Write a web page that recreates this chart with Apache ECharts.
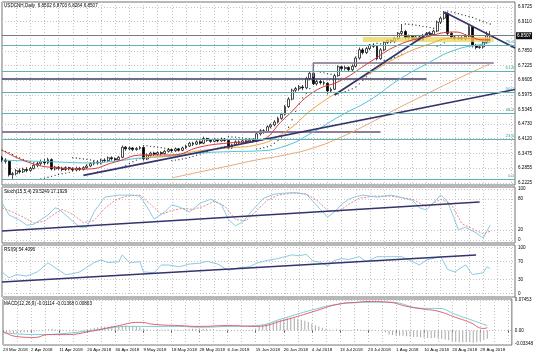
<!DOCTYPE html>
<html><head><meta charset="utf-8">
<script src="https://cdn.jsdelivr.net/npm/echarts@6/dist/echarts.min.js"></script>
<style>html,body{margin:0;padding:0;background:#fff}#c{width:536px;height:358px}</style>
</head><body><div id="c"></div>
<script>
// ---------- data ----------
const dateTicks = ['23 Mar 2018','2 Apr 2018','11 Apr 2018','20 Apr 2018','30 Apr 2018','9 May 2018','18 May 2018','28 May 2018','6 Jun 2018','15 Jun 2018','26 Jun 2018','4 Jul 2018','13 Jul 2018','23 Jul 2018','1 Aug 2018','10 Aug 2018','20 Aug 2018','29 Aug 2018'];
const slotCount = 146;
const priceTicks = [6.9725,6.9110,6.7850,6.7225,6.6605,6.5975,6.5345,6.4730,6.4120,6.3475,6.2855,6.2225];
const stochTicks = [100,80,20,0];
const rsiTicks = [100,70,30,0];
const macdTicks = [0.07453,0,-0.03348];
const lastPrice = 6.8507;
// [open, close, low, high]
const candles = [
[6.330,6.320,6.312,6.338],[6.320,6.315,6.305,6.328],[6.315,6.258,6.250,6.318],[6.258,6.262,6.240,6.270],
[6.262,6.275,6.255,6.282],[6.275,6.270,6.262,6.285],[6.270,6.280,6.265,6.288],[6.280,6.276,6.268,6.290],
[6.276,6.285,6.270,6.292],[6.285,6.298,6.280,6.305],[6.298,6.305,6.290,6.315],[6.305,6.312,6.296,6.322],
[6.312,6.308,6.298,6.325],[6.308,6.322,6.302,6.330],[6.322,6.282,6.276,6.328],[6.282,6.290,6.276,6.296],
[6.290,6.285,6.278,6.295],[6.285,6.280,6.272,6.292],[6.280,6.288,6.274,6.294],[6.288,6.283,6.276,6.292],
[6.283,6.278,6.270,6.290],[6.278,6.285,6.272,6.292],[6.285,6.280,6.274,6.291],[6.280,6.288,6.275,6.294],
[6.288,6.295,6.283,6.302],[6.295,6.305,6.290,6.312],[6.305,6.312,6.298,6.318],[6.312,6.308,6.300,6.320],
[6.308,6.320,6.302,6.326],[6.320,6.318,6.310,6.328],[6.318,6.330,6.312,6.336],[6.330,6.326,6.318,6.336],
[6.326,6.322,6.315,6.332],[6.322,6.332,6.316,6.338],[6.332,6.375,6.328,6.382],[6.375,6.368,6.360,6.380],
[6.368,6.372,6.362,6.378],[6.372,6.365,6.358,6.376],[6.365,6.370,6.360,6.376],[6.370,6.374,6.364,6.380],
[6.374,6.325,6.318,6.378],[6.325,6.340,6.320,6.348],[6.340,6.350,6.335,6.356],[6.350,6.345,6.338,6.356],
[6.345,6.352,6.340,6.358],[6.352,6.348,6.340,6.358],[6.348,6.358,6.344,6.364],[6.358,6.365,6.352,6.370],
[6.365,6.360,6.352,6.370],[6.360,6.368,6.355,6.374],[6.368,6.362,6.356,6.372],[6.362,6.372,6.358,6.378],
[6.372,6.380,6.368,6.386],[6.380,6.392,6.376,6.398],[6.392,6.388,6.380,6.398],[6.388,6.398,6.384,6.404],
[6.398,6.392,6.386,6.404],[6.392,6.412,6.388,6.420],[6.412,6.405,6.398,6.416],[6.405,6.400,6.394,6.410],
[6.400,6.408,6.396,6.414],[6.408,6.402,6.396,6.412],[6.402,6.410,6.398,6.416],[6.410,6.404,6.398,6.414],
[6.404,6.372,6.368,6.408],[6.372,6.385,6.368,6.390],[6.385,6.398,6.380,6.404],[6.398,6.394,6.388,6.404],
[6.394,6.402,6.390,6.408],[6.402,6.398,6.392,6.408],[6.398,6.405,6.394,6.410],[6.405,6.400,6.395,6.410],
[6.400,6.432,6.396,6.438],[6.432,6.445,6.425,6.452],[6.445,6.440,6.432,6.452],[6.440,6.462,6.436,6.468],
[6.462,6.470,6.455,6.476],[6.470,6.482,6.464,6.490],[6.482,6.498,6.476,6.505],[6.498,6.515,6.492,6.522],
[6.515,6.548,6.510,6.555],[6.548,6.580,6.542,6.588],[6.580,6.618,6.575,6.625],[6.618,6.625,6.608,6.632],
[6.625,6.632,6.615,6.640],[6.632,6.628,6.618,6.640],[6.628,6.668,6.622,6.675],[6.668,6.690,6.660,6.700],
[6.690,6.645,6.640,6.698],[6.645,6.655,6.638,6.662],[6.655,6.650,6.642,6.662],[6.650,6.648,6.638,6.658],
[6.648,6.615,6.600,6.652],[6.615,6.622,6.608,6.630],[6.622,6.680,6.618,6.688],[6.680,6.718,6.675,6.724],
[6.718,6.710,6.700,6.722],[6.710,6.715,6.702,6.722],[6.715,6.705,6.698,6.720],[6.705,6.720,6.700,6.728],
[6.720,6.755,6.715,6.762],[6.755,6.790,6.748,6.800],[6.790,6.778,6.770,6.798],[6.778,6.795,6.772,6.802],
[6.795,6.810,6.788,6.815],[6.810,6.805,6.798,6.818],[6.805,6.752,6.745,6.810],[6.752,6.790,6.748,6.798],
[6.790,6.822,6.785,6.828],[6.822,6.830,6.815,6.835],[6.830,6.825,6.818,6.835],[6.825,6.838,6.820,6.845],
[6.838,6.860,6.832,6.866],[6.860,6.868,6.852,6.900],[6.868,6.842,6.835,6.875],[6.842,6.848,6.835,6.855],
[6.848,6.838,6.830,6.852],[6.838,6.845,6.830,6.850],[6.845,6.832,6.826,6.850],[6.832,6.852,6.828,6.858],
[6.852,6.860,6.845,6.866],[6.860,6.855,6.848,6.866],[6.855,6.870,6.850,6.876],[6.870,6.908,6.865,6.915],
[6.908,6.925,6.900,6.932],[6.925,6.945,6.918,6.955],[6.945,6.860,6.852,6.950],[6.860,6.845,6.838,6.866],
[6.845,6.838,6.830,6.850],[6.838,6.842,6.832,6.848],[6.842,6.836,6.830,6.848],[6.836,6.848,6.830,6.856],
[6.848,6.888,6.842,6.895],[6.888,6.808,6.800,6.892],[6.808,6.800,6.792,6.815],[6.800,6.803,6.794,6.810],
[6.803,6.822,6.795,6.828],[6.822,6.850,6.815,6.868],[6.850,6.851,6.826,6.870]
];
const sar = [6.362,6.357,6.352,6.344,6.336,6.329,6.323,6.318,6.313,6.309,6.306,6.240,6.243,6.247,6.251,6.255,6.259,6.262,6.265,6.268,
6.330,6.329,6.327,6.325,6.323,6.321,6.319,6.270,6.271,6.273,6.276,6.279,6.282,6.285,6.290,6.298,6.306,6.313,6.320,6.326,
6.382,6.381,6.379,6.377,6.375,6.373,6.371,6.369,6.318,6.320,6.322,6.325,6.328,6.332,6.336,6.341,6.346,6.351,6.357,6.362,
6.367,6.371,6.375,6.379,6.420,6.419,6.418,6.416,6.415,6.413,6.412,6.411,6.368,6.370,6.373,6.377,6.383,6.392,6.403,6.418,
6.436,6.460,6.492,6.528,6.560,6.585,6.605,6.625,6.700,6.698,6.695,6.692,6.689,6.686,6.600,6.602,6.607,6.612,6.618,6.624,
6.632,6.645,6.660,6.675,6.690,6.705,6.818,6.815,6.745,6.748,6.752,6.757,6.763,6.772,6.900,6.899,6.897,6.895,6.893,6.890,
6.888,6.885,6.882,6.805,6.810,6.820,6.955,6.952,6.948,6.944,6.940,6.936,6.932,6.928,6.922,6.916,6.910,6.905,6.900];
const maRed = [[0,6.363],[8,6.308],[16,6.287],[24,6.282],[32,6.312],[40,6.342],[48,6.342],[56,6.376],[64,6.393],[72,6.401],[80,6.500],[88,6.610],[96,6.661],[104,6.738],[112,6.810],[120,6.845],[128,6.866],[132,6.849],[136,6.832],[138,6.832]];
const maOrange = [[40,6.330],[48,6.340],[56,6.360],[64,6.372],[72,6.385],[80,6.440],[88,6.540],[96,6.620],[104,6.690],[112,6.760],[120,6.810],[128,6.840],[136,6.835],[138,6.836]];
const maCyan = [[0,6.320],[8,6.316],[16,6.312],[24,6.308],[32,6.316],[40,6.330],[48,6.337],[56,6.350],[64,6.356],[72,6.359],[80,6.380],[88,6.440],[96,6.512],[104,6.576],[112,6.661],[120,6.730],[128,6.789],[136,6.815],[138,6.823]];
const maTan = [[48,6.244],[56,6.270],[64,6.295],[72,6.321],[80,6.342],[88,6.372],[96,6.419],[104,6.478],[112,6.542],[120,6.602],[128,6.661],[136,6.717],[138,6.730]];
const fibLevels = [['0.0',6.2353],['23.6',6.4100],['38.2',6.5208],['50.0',6.6103],['61.8',6.6955],['76.4',6.8063]];
const trendUpLong = [[23,6.255],[145,6.621]];
const trendUpShort = [[94,6.5975],[121,6.866]];
const trendDown = [[125,6.9512],[145,6.7978]];
const hLine1 = [[0,6.6657],[120,6.6657]];
const hLine2 = [[0,6.4399],[107,6.4399]];
const hLine3 = [[88,6.6742],[88,6.7339],[139,6.7339]];
const yellowZone = [[102,6.834],[139,6.834]];
const stochMain = [[0,73],[2,49],[5,39],[7,29],[9,31],[13,49],[15,63],[16,61],[19,43],[22,25],[24,25],[26,55],[29,84],[33,88],[37,88],[39,86],[41,65],[43,41],[46,55],[48,69],[50,65],[53,55],[56,72],[59,80],[62,70],[64,40],[66,28],[68,35],[71,60],[74,82],[77,90],[80,92],[83,93],[86,90],[88,75],[90,60],[92,45],[94,55],[96,70],[98,80],[100,85],[102,88],[104,86],[106,84],[110,88],[116,78],[118,63],[120,59],[124,88],[126,75],[129,20],[131,25],[134,14],[136,4],[138,29.5]];
const stochSignal = [[0,63],[3,55],[6,45],[9,33],[12,37],[15,52],[17,60],[20,50],[23,34],[26,38],[29,62],[32,78],[35,86],[39,88],[42,70],[45,50],[48,58],[51,62],[54,60],[57,66],[60,76],[63,66],[66,40],[69,38],[72,58],[75,78],[78,88],[82,92],[86,90],[89,78],[92,58],[95,55],[98,70],[101,82],[105,86],[110,86],[116,80],[120,65],[124,80],[127,70],[130,32],[133,22],[136,12],[138,17.2]];
const stochTrend = [[0,17.6],[135,74.5]];
const rsi = [[0,47],[2,34],[4,41],[7,38],[10,47],[13,67],[15,56],[18,41],[20,43],[22,47],[26,67],[28,73],[30,67],[33,69],[34,84],[36,67],[39,69],[40,47],[43,45],[45,62],[47,62],[50,58],[53,64],[56,66],[58,70],[61,64],[64,50],[67,56],[70,58],[72,66],[75,72],[78,76],[80,80],[82,84],[84,82],[86,85],[88,70],[90,68],[92,60],[94,72],[96,76],[98,74],[101,80],[103,69],[106,80],[110,80],[113,80],[115,73],[118,62],[120,73],[124,80],[126,52],[128,47],[131,62],[133,41],[136,45],[137,58],[138,54.4]];
const rsiTrend = [[0,25],[134,83.7]];
const macdRed = [[0,-0.002],[4,-0.015],[9,-0.017],[13,-0.010],[18,-0.010],[25,-0.002],[32,0.010],[39,0.020],[43,0.015],[50,0.012],[56,0.010],[64,0.012],[72,0.010],[80,0.025],[88,0.045],[96,0.065],[101,0.069],[104,0.071],[110,0.069],[115,0.059],[120,0.052],[124,0.047],[129,0.032],[133,0.020],[137,0.005],[138,0.007]];
const macdCyan = [[0,-0.005],[9,-0.010],[18,-0.007],[27,0.002],[36,0.010],[43,0.010],[50,0.010],[56,0.008],[64,0.010],[72,0.012],[80,0.030],[88,0.050],[96,0.065],[101,0.068],[104,0.069],[110,0.069],[120,0.054],[124,0.054],[129,0.039],[133,0.027],[137,0.015],[138,0.012]];
const macdHist = [-0.003,-0.004,-0.005,-0.006,-0.006,-0.005,-0.004,-0.004,-0.003,-0.003,
-0.002,-0.001,0.001,0.003,0.004,0.003,0.002,0.001,-0.001,-0.002,
-0.002,-0.001,0.001,0.002,0.003,0.005,0.007,0.008,0.009,0.010,
0.010,0.011,0.010,0.009,0.011,0.012,0.011,0.010,0.009,0.008,
0.005,0.003,0.002,0.001,0.001,0.002,0.002,0.003,0.003,0.002,
0.002,0.001,0.002,0.003,0.004,0.004,0.005,0.004,0.004,0.003,
0.002,0.001,0.001,0.000,-0.002,-0.002,-0.001,-0.001,0.000,0.001,
0.001,0.002,0.005,0.009,0.012,0.015,0.018,0.020,0.023,0.026,
0.028,0.030,0.031,0.030,0.028,0.026,0.024,0.021,0.017,0.013,
0.010,0.007,0.004,0.002,0.002,0.003,0.002,0.002,0.001,0.001,
0.002,0.003,0.002,0.001,0.001,0.001,-0.001,-0.001,-0.002,-0.004,
-0.010,-0.011,-0.012,-0.013,-0.013,-0.014,-0.015,-0.016,-0.016,-0.017,
-0.018,-0.019,-0.019,-0.018,-0.019,-0.020,-0.022,-0.024,-0.026,-0.028,
-0.029,-0.029,-0.028,-0.029,-0.030,-0.029,-0.027,-0.023,-0.020];

// ---------- chart ----------
const cats = Array.from({length: slotCount}, (_, i) => String(i));
const F = 'Liberation Sans, Arial, sans-serif';
const gridLine = {show: true, lineStyle: {color: '#c4c4c4', type: [1, 2], width: 1}};
const grids = [
  {left: 2, top: 2, width: 513, height: 183},
  {left: 2, top: 187, width: 513, height: 56},
  {left: 2, top: 245, width: 513, height: 52},
  {left: 2, top: 299, width: 513, height: 46}
].map(g => Object.assign(g, {show: true, borderColor: '#707070', borderWidth: 1, backgroundColor: '#fff'}));

const xAxes = grids.map((g, k) => ({
  type: 'category', gridIndex: k, data: cats, boundaryGap: false,
  axisLine: {show: false}, axisTick: {show: k === 3, interval: 7, length: 2, lineStyle: {color: '#555'}},
  axisLabel: {show: k === 3, interval: 7, align: 'left', fontSize: 4.4, fontFamily: F, color: '#000', margin: 3,
    formatter: (v) => { const i = +v; return i % 8 === 0 && dateTicks[i / 8] ? dateTicks[i / 8] : ''; }},
  splitLine: {show: true, interval: 3, lineStyle: {color: '#c4c4c4', type: [1, 2], width: 1}}
}));

function yAx(k, min, max, ticks, fmt) {
  return {type: 'value', gridIndex: k, position: 'right', min: min, max: max,
    axisLine: {show: false}, axisTick: {show: false, customValues: ticks},
    axisLabel: {customValues: ticks, formatter: fmt, fontSize: 4.6, fontFamily: F, color: '#000', margin: 3, hideOverlap: false},
    splitLine: gridLine};
}
const yAxes = [
  yAx(0, 6.21398, 6.99381, priceTicks, v => v.toFixed(4)),
  yAx(1, -5.88, 103.92, stochTicks, v => String(v)),
  yAx(2, -7.61, 105.43, rsiTicks, v => String(v)),
  yAx(3, -0.03543, 0.07697, macdTicks, v => v === 0 ? '0.00' : v.toFixed(5))
];

function line(name, data, xi, color, width, extra) {
  return Object.assign({type: 'line', name: name, data: data, xAxisIndex: xi, yAxisIndex: xi,
    showSymbol: false, symbol: 'none', silent: true, animation: false,
    lineStyle: {color: color, width: width}}, extra || {});
}

const fibMarks = fibLevels.map(f => ({yAxis: f[1], name: f[0],
  lineStyle: {color: '#5fb3b3', width: 1, type: 'solid'},
  label: {show: true, position: 'insideEndTop', formatter: f[0], color: '#3f9c9c', fontSize: 4.4, fontFamily: F, distance: 1}}));

const series = [
  line('yellow', yellowZone, 0, 'rgba(236,212,90,0.75)', 5),
  line('hl2', hLine2, 0, '#8c7f9c', 2),
  line('hl1', hLine1, 0, '#3c3c66', 1.6),
  line('hl3', hLine3, 0, '#7e7088', 1.5),
  line('maTan', maTan, 0, '#e8a878', 1, {smooth: true}),
  line('maCyan', maCyan, 0, '#50c4d6', 1, {smooth: true}),
  line('maOrange', maOrange, 0, '#f0a040', 1, {smooth: true}),
  line('maRed', maRed, 0, '#d83a3a', 1, {smooth: true}),
  {type: 'scatter', data: sar.map((v, i) => [i, v]), xAxisIndex: 0, yAxisIndex: 0, symbolSize: 1.3,
    itemStyle: {color: '#000'}, silent: true, animation: false},
  {type: 'candlestick', name: 'USDCNH', data: candles, xAxisIndex: 0, yAxisIndex: 0, barWidth: 2.4,
    animation: false, silent: true,
    itemStyle: {color: '#ffffff', color0: '#000000', borderColor: '#000000', borderColor0: '#000000', borderWidth: 0.7},
    markLine: {symbol: 'none', silent: true, animation: false,
      data: fibMarks.concat([{yAxis: lastPrice, lineStyle: {color: '#7a7a7a', width: 1.2, type: 'solid'},
        label: {show: true, position: 'end', formatter: lastPrice.toFixed(4), backgroundColor: '#111', color: '#fff',
          fontSize: 4.6, fontFamily: F, padding: [1, 1], distance: 1}}])}},
  line('trendUpLong', trendUpLong, 0, '#33336e', 1.6),
  line('trendUpShort', trendUpShort, 0, '#33336e', 1.6),
  line('trendDown', trendDown, 0, '#33336e', 1.6),
  // stochastic
  line('stochSignal', stochSignal, 1, '#e06a6a', 0.8, {lineStyle: {color: '#e06a6a', width: 0.8, type: [2, 1.5]}}),
  line('stochMain', stochMain, 1, '#7fc4dc', 0.9),
  line('stochTrend', stochTrend, 1, '#33336e', 1.6),
  // RSI
  line('rsi', rsi, 2, '#7fc4dc', 0.9),
  line('rsiTrend', rsiTrend, 2, '#33336e', 1.6),
  // MACD
  {type: 'bar', data: macdHist, xAxisIndex: 3, yAxisIndex: 3, barWidth: 1, silent: true, animation: false,
    itemStyle: {color: '#a8a8a8'}},
  line('macdCyan', macdCyan, 3, '#6cc6d4', 0.9, {smooth: true}),
  line('macdRed', macdRed, 3, '#e0505c', 0.9, {smooth: true})
];

const txt = (t, left, top) => ({text: t, left: left, top: top, textStyle: {fontSize: 4.6, fontFamily: F, color: '#000', fontWeight: 'normal'}, padding: 0});
const chart = echarts.init(document.getElementById('c'), null, {renderer: 'canvas'});
chart.setOption({
  animation: false,
  backgroundColor: '#fff',
  title: [
    txt('USDCNH,Daily  6.8502 6.8703 6.8264 6.8507', 4, 3),
    txt('Stoch(15,5,4) 29.5249 17.1929', 4, 189),
    txt('RSI(9) 54.4096', 4, 247),
    txt('MACD(12,26,9) -0.01114 -0.01368 0.00803', 4, 301)
  ],
  grid: grids,
  xAxis: xAxes,
  yAxis: yAxes,
  series: series
});
</script></body></html>
